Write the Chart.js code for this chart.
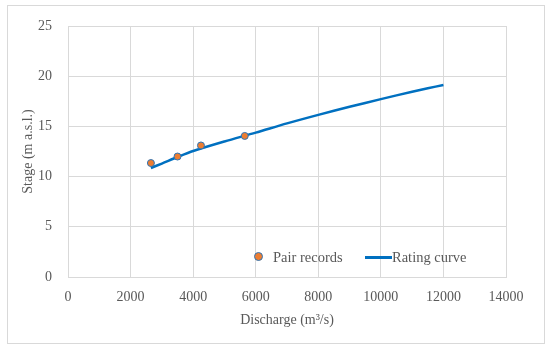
<!DOCTYPE html>
<html>
<head>
<meta charset="utf-8">
<script src="https://cdn.jsdelivr.net/npm/chart.js@4.4.1/dist/chart.umd.min.js"></script>
<style>
    body { margin: 0; background: #fff; }
    #wrap { position: relative; width: 550px; height: 349px; }
    #frame { position: absolute; left: 7px; top: 5px; width: 536px; height: 337px; border: 1px solid #d9d9d9; }
    #legend { position: absolute; left: 250px; top: 247px; font-family: "Liberation Serif", serif; font-size: 14.5px; color: #595959; white-space: nowrap; }
    #legend span { position: absolute; top: 0; line-height: 20px; }
</style>
</head>
<body>
<div id="wrap">
    <div id="frame"></div>
    <canvas id="ratingChart" width="550" height="349"></canvas>
    <div id="legend"></div>
</div>
<script>
// DATA
const pairQ = [2650, 3500, 4250, 5650];
const pairStage = [11.35, 12.0, 13.1, 14.05];

const curveQ = [2650, 3000, 3500, 4000, 5000, 6000, 7000, 8000, 9000, 10000, 11000, 11500, 12000];
const curveStage = [10.86, 11.3, 11.95, 12.55, 13.5, 14.38, 15.3, 16.15, 16.95, 17.72, 18.45, 18.8, 19.12];

const xTicks = [0, 2000, 4000, 6000, 8000, 10000, 12000, 14000];
const yTicks = [0, 5, 10, 15, 20, 25];

const seriesNames = ["Pair records", "Rating curve"];

const gridColor = "#d9d9d9";
const textColor = "#595959";
const font = { family: "'Liberation Serif', serif", size: 14 };

function toPoints(xs, ys) {
    return xs.map((x, i) => ({ x: x, y: ys[i] }));
}

// CHART
function loadChart() {
    let ctx = document.getElementById("ratingChart");

    let chart = new Chart(ctx, {
        type: "scatter",
        data: {
            datasets: [
                {
                    label: seriesNames[0],
                    data: toPoints(pairQ, pairStage),
                    backgroundColor: "#ed7d31",
                    borderColor: "#2e75b6",
                    borderWidth: 1,
                    pointRadius: 3.5,
                    order: 0
                },
                {
                    label: seriesNames[1],
                    data: toPoints(curveQ, curveStage),
                    showLine: true,
                    borderColor: "#0070c0",
                    borderWidth: 2.5,
                    pointRadius: 0,
                    tension: 0.3,
                    order: 1
                }
            ]
        },
        options: {
            responsive: false,
            animation: false,
            layout: { padding: { left: 0, top: 26, right: 44, bottom: 20 } },
            plugins: {
                legend: { display: false },
                tooltip: { enabled: false }
            },
            scales: {
                x: {
                    type: "linear",
                    min: 0,
                    max: 14000,
                    afterBuildTicks: s => { s.ticks = xTicks.map(v => ({ value: v })); },
                    afterFit: s => { s.height = 52; },
                    grid: { color: gridColor, drawTicks: false },
                    border: { color: gridColor },
                    ticks: { color: textColor, font: font, padding: 12, maxRotation: 0, callback: v => String(v) },
                    title: { display: true, text: "Discharge (m³/s)", color: textColor, font: font, padding: 0 }
                },
                y: {
                    min: 0,
                    max: 25,
                    afterBuildTicks: s => { s.ticks = yTicks.map(v => ({ value: v })); },
                    afterFit: s => { s.width = 68; },
                    grid: { color: gridColor, drawTicks: false },
                    border: { color: gridColor },
                    ticks: { color: textColor, font: font, padding: 16, callback: v => String(v) },
                    title: { display: true, text: "Stage (m a.s.l.)", color: textColor, font: font, padding: { top: 20, bottom: 0 } }
                }
            }
        }
    });

    buildLegend(chart);
}

// LEGEND (inside plot, bottom right)
function buildLegend(chart) {
    let box = document.getElementById("legend");
    let ds = chart.data.datasets;
    box.innerHTML =
        '<span style="left:4px;top:5px;width:9px;height:9px;border-radius:50%;box-sizing:border-box;background:' + ds[0].backgroundColor + ';border:1px solid ' + ds[0].borderColor + '"></span>' +
        '<span style="left:23px">' + ds[0].label + '</span>' +
        '<span style="left:115px;top:9px;width:27px;height:3px;background:' + ds[1].borderColor + '"></span>' +
        '<span style="left:142px">' + ds[1].label + '</span>';
}

window.onload = loadChart;
</script>
</body>
</html>
